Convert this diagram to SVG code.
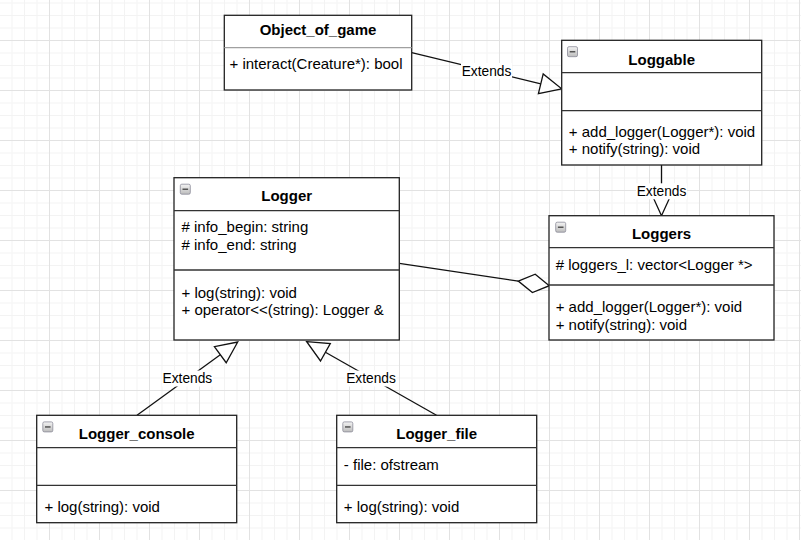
<svg xmlns="http://www.w3.org/2000/svg" xmlns:xlink="http://www.w3.org/1999/xlink" width="801" height="540" viewBox="0 0 801 540">
<style>
.box{fill:#fff;stroke:#222;stroke-width:1.3}
.sep{stroke:#333;stroke-width:1.3}
.sepl{stroke:#a0a0a0;stroke-width:1.3}
text{font-family:"Liberation Sans",Arial,sans-serif;fill:#000}
.title{font-size:15px;font-weight:bold;text-anchor:middle}
.txt{font-size:15px}
.lbl{font-size:13.75px;text-anchor:middle}
.edge{stroke:#111;stroke-width:1.3;fill:none}
.head{fill:#fff;stroke:#111;stroke-width:1.3;stroke-linejoin:miter}
.lblbg{fill:#fff}
</style>
<defs>
<pattern id="grid" patternUnits="userSpaceOnUse" x="-1" y="-10" width="50" height="50">
<rect x="12.5" y="0" width="1" height="50" fill="#f3f3f3"/>
<rect x="25" y="0" width="1" height="50" fill="#f3f3f3"/>
<rect x="37.5" y="0" width="1" height="50" fill="#f3f3f3"/>
<rect x="0" y="12.5" width="50" height="1" fill="#f3f3f3"/>
<rect x="0" y="25" width="50" height="1" fill="#f3f3f3"/>
<rect x="0" y="37.5" width="50" height="1" fill="#f3f3f3"/>
<rect x="0" y="0" width="1" height="50" fill="#e2e2e2"/>
<rect x="0" y="0" width="50" height="1" fill="#e2e2e2"/>
</pattern>
<linearGradient id="ig" x1="0" y1="0" x2="0" y2="1">
<stop offset="0" stop-color="#f4f4f4"/>
<stop offset="1" stop-color="#bcbcbc"/>
</linearGradient>
<g id="icon">
<rect x="0" y="0" width="10" height="10" rx="1.5" fill="url(#ig)" stroke="#8c8c99" stroke-width="0.8"/>
<rect x="2.2" y="4.3" width="5.6" height="1.5" fill="#555"/>
</g>
</defs>
<rect width="801" height="540" fill="#fff"/>
<rect width="801" height="540" fill="url(#grid)"/>

<g id="connectors">
<!-- Object_of_game -> Loggable -->
<g id="e1">
<line class="edge" x1="411.7" y1="52.7" x2="540.8" y2="83.8"/>
<polygon class="head" points="561.7,88.8 538.4,93.7 543.2,73.9"/>
<rect class="lblbg" x="461" y="63" width="51" height="16"/>
<text class="lbl" x="486.5" y="76">Extends</text>
</g>
<!-- Loggable -> Loggers -->
<g id="e2">
<line class="edge" x1="661.5" y1="165" x2="661.5" y2="194.2"/>
<polygon class="head" points="661.5,215.7 651.7,194.2 671.3,194.2"/>
<rect class="lblbg" x="636" y="183.3" width="51" height="16"/>
<text class="lbl" x="661.5" y="195.7">Extends</text>
</g>
<!-- Logger <>- Loggers (aggregation) -->
<g id="e3">
<line class="edge" x1="399.3" y1="263.3" x2="518.3" y2="281.1"/>
<polygon class="head" points="518.3,281.1 535.2,274.2 549.3,285.7 532.4,292.6"/>
</g>
<!-- Logger_console -> Logger -->
<g id="e4">
<line class="edge" x1="137" y1="415.3" x2="220.3" y2="354.7"/>
<polygon class="head" points="237.7,342 226.2,362.7 214.4,346.6"/>
<rect class="lblbg" x="162" y="370.5" width="51" height="16"/>
<text class="lbl" x="187.4" y="383.4">Extends</text>
</g>
<!-- Logger_file -> Logger -->
<g id="e5">
<line class="edge" x1="436.5" y1="415.3" x2="325.4" y2="352.3"/>
<polygon class="head" points="306.7,341.7 330.3,343.6 320.5,361"/>
<rect class="lblbg" x="345.5" y="370.5" width="51" height="16"/>
<text class="lbl" x="371" y="383.4">Extends</text>
</g>
</g>

<g id="Object_of_game">
<rect class="box" x="224.3" y="15.3" width="187.4" height="74.7"/>
<line class="sepl" x1="224.3" y1="47.7" x2="411.7" y2="47.7"/>
<text class="title" x="318" y="35">Object_of_game</text>
<text class="txt" x="229.5" y="69">+ interact(Creature*): bool</text>
</g>

<g id="Loggable">
<rect class="box" x="561.7" y="40.3" width="200" height="124.7"/>
<line class="sep" x1="561.7" y1="72.7" x2="761.7" y2="72.7"/>
<line class="sep" x1="561.7" y1="110.7" x2="761.7" y2="110.7"/>
<use xlink:href="#icon" x="567.5" y="46.7"/>
<text class="title" x="661.7" y="64.5">Loggable</text>
<text class="txt" x="568.8" y="136.6">+ add_logger(Logger*): void</text>
<text class="txt" x="568.8" y="154.3">+ notify(string): void</text>
</g>

<g id="Loggers">
<rect class="box" x="549" y="215.7" width="225" height="124.3"/>
<line class="sep" x1="549" y1="247.7" x2="774" y2="247.7"/>
<line class="sep" x1="549" y1="285" x2="774" y2="285"/>
<use xlink:href="#icon" x="555.7" y="222.2"/>
<text class="title" x="661.5" y="239">Loggers</text>
<text class="txt" x="555.7" y="269.6">#&#160;loggers_l: vector&lt;Logger *&gt;</text>
<text class="txt" x="555.7" y="312.2">+ add_logger(Logger*): void</text>
<text class="txt" x="555.7" y="329.9">+ notify(string): void</text>
</g>

<g id="Logger">
<rect class="box" x="174" y="177.7" width="225.3" height="162.3"/>
<line class="sep" x1="174" y1="210.7" x2="399.3" y2="210.7"/>
<line class="sep" x1="174" y1="270" x2="399.3" y2="270"/>
<use xlink:href="#icon" x="180.3" y="184.2"/>
<text class="title" x="286.7" y="201">Logger</text>
<text class="txt" x="181.5" y="232.2"># info_begin: string</text>
<text class="txt" x="181.5" y="249.8"># info_end: string</text>
<text class="txt" x="181.5" y="297.5">+ log(string): void</text>
<text class="txt" x="181.5" y="315.1">+ operator&lt;&lt;(string): Logger &amp;</text>
</g>

<g id="Logger_console">
<rect class="box" x="36.7" y="415.3" width="200" height="107.4"/>
<line class="sep" x1="36.7" y1="447.7" x2="236.7" y2="447.7"/>
<line class="sep" x1="36.7" y1="485.3" x2="236.7" y2="485.3"/>
<use xlink:href="#icon" x="42.8" y="421.9"/>
<text class="title" x="136.7" y="439.3">Logger_console</text>
<text class="txt" x="44.5" y="511.6">+ log(string): void</text>
</g>

<g id="Logger_file">
<rect class="box" x="336.7" y="415.3" width="200" height="107.4"/>
<line class="sep" x1="336.7" y1="447.7" x2="536.7" y2="447.7"/>
<line class="sep" x1="336.7" y1="485.3" x2="536.7" y2="485.3"/>
<use xlink:href="#icon" x="342.8" y="421.9"/>
<text class="title" x="436.7" y="439.3">Logger_file</text>
<text class="txt" x="343.8" y="470">- file: ofstream</text>
<text class="txt" x="343.8" y="511.6">+ log(string): void</text>
</g>
</svg>
